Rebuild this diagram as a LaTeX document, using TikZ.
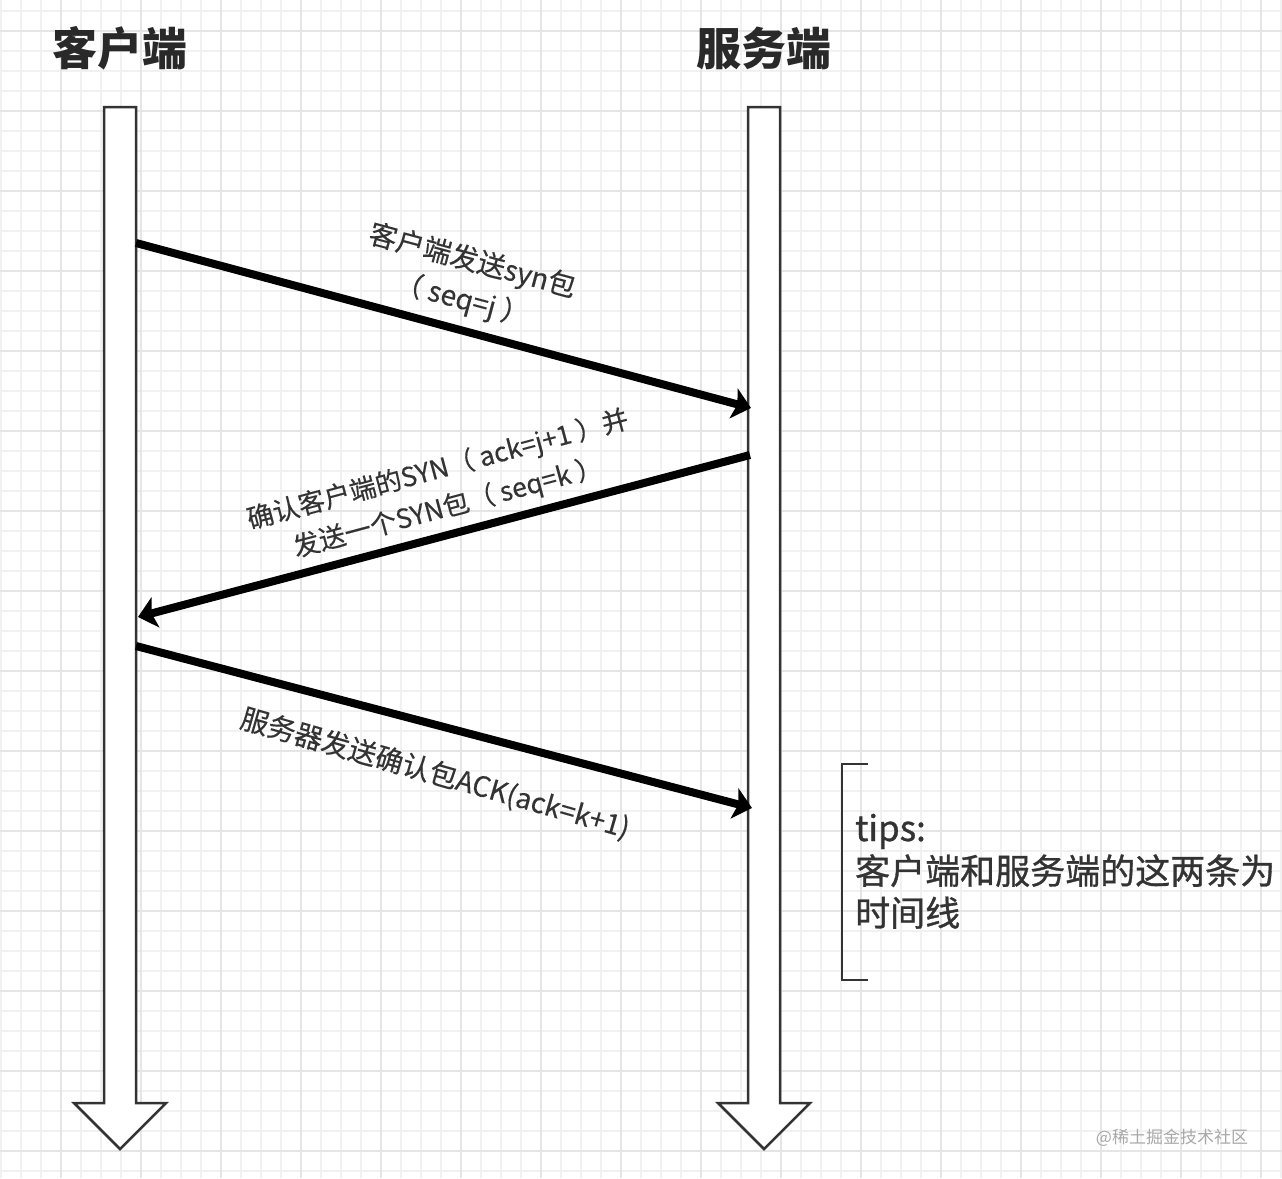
\documentclass[tikz,border=0pt]{standalone}
\usepackage{fontspec}
\setmainfont{Noto Sans CJK SC}
\newfontfamily\lblfont{Noto Sans CJK SC}[FakeBold=0.3]
\newfontfamily\tipfont{Noto Sans CJK SC}[FakeBold=0.9]
\usetikzlibrary{arrows.meta}
\definecolor{gridminor}{HTML}{F1F1F1}
\definecolor{gridmajor}{HTML}{E5E5E5}
\definecolor{ink}{HTML}{333333}
\definecolor{wm}{HTML}{A8A8A8}
\begin{document}
\begin{tikzpicture}[x=1pt,y=-1pt,
  lifeline/.style={draw=ink, line width=2.5pt, fill=white, line join=miter},
  msg/.style={black, line width=8pt, -{Stealth[length=18pt,width=31pt,inset=4pt]}},
  title/.style={text=ink!80!black, font=\fontsize{45}{50}\selectfont\bfseries, inner sep=0pt},
  lbl/.style={text=ink, font=\lblfont\fontsize{28}{40}\selectfont, align=center, inner sep=0pt},
  tiptext/.style={text=ink, font=\tipfont\fontsize{35}{42}\selectfont, inner sep=0pt, anchor=base west},
  bracket/.style={draw=ink, line width=2pt},
  watermark/.style={text=wm, font=\fontsize{17}{20}\selectfont, inner sep=0pt}
]
\useasboundingbox (0,0) rectangle (1282,1178);
\fill[white] (0,0) rectangle (1282,1178);
% grid
\foreach \x in {1,21,...,1281} \draw[gridminor, line width=1.6pt] (\x,0) -- (\x,1178);
\foreach \y in {11,31,...,1171} \draw[gridminor, line width=1.6pt] (0,\y) -- (1282,\y);
\foreach \x in {61,141,...,1261} \draw[gridmajor, line width=1.8pt] (\x,0) -- (\x,1178);
\foreach \y in {31,111,...,1171} \draw[gridmajor, line width=1.8pt] (0,\y) -- (1282,\y);

% titles
\node[title] (client) at (120,48) {客户端};
\node[title] (server) at (764,48) {服务端};

% lifelines
\draw[lifeline] (104,107) -- (136,107) -- (136,1103) -- (166,1103) -- (120,1149) -- (74,1103) -- (104,1103) -- cycle;
\draw[lifeline] (748,107) -- (780,107) -- (780,1103) -- (810,1103) -- (764,1149) -- (718,1103) -- (748,1103) -- cycle;

% connector end points on the lifelines
\coordinate (c1) at (136,243);
\coordinate (s1) at (751,408);
\coordinate (s2) at (750,455);
\coordinate (c2) at (138,617);
\coordinate (c3) at (136,646);
\coordinate (s3) at (752,808);

\draw[msg] (c1) -- (s1);
\draw[msg] (s2) -- (c2);
\draw[msg] (c3) -- (s3);

% labels
\node[lbl, rotate=-15] (l1) at (467,281) {客户端发送syn包\\（ seq=j ）};
\node[lbl, rotate=15, font=\lblfont\fontsize{26.5}{39}\selectfont] (l2) at (443,489) {确认客户端的SYN（ ack=j+1 ）并\\发送一个SYN包（ seq=k ）};
\node[lbl, rotate=-16] (l3) at (435,774) {服务器发送确认包ACK(ack=k+1)};

% tips
\draw[bracket] (868,764) -- (842,764) -- (842,980) -- (868,980);
\node[tiptext] (t1) at (855,841) {tips:};
\node[tiptext] (t2) at (855,884) {客户端和服务端的这两条为};
\node[tiptext] (t3) at (855,926) {时间线};

% watermark
\node[watermark] (wmk) at (1172,1138) {@稀土掘金技术社区};
\end{tikzpicture}
\end{document}
